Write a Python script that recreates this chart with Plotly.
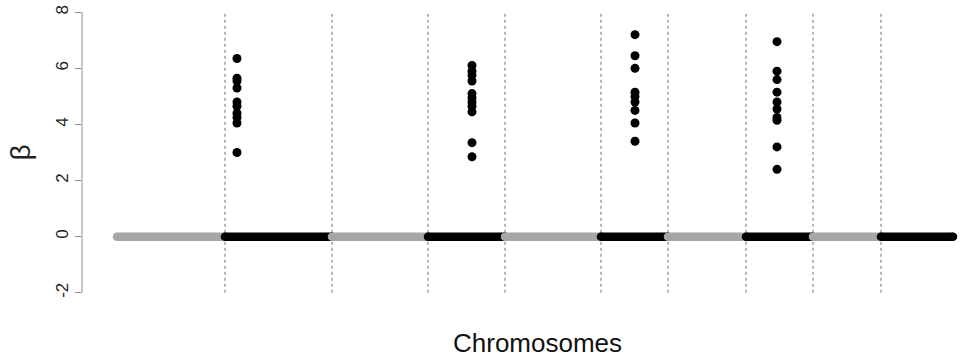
import plotly.graph_objects as go

# Chromosome lengths (arbitrary genome units) in order
chrom_lengths = [108, 107, 96, 77, 96, 67, 78, 67, 68, 72]
chrom_colors = ["#a6a6a6", "#000000"]

# Significant effect clusters: (position, beta values)
cluster_pos = [120, 355, 518, 660]
cluster_betas = [
    [6.35, 5.65, 5.55, 5.3, 4.8, 4.65, 4.4, 4.25, 4.05, 3.0],
    [6.1, 5.9, 5.75, 5.55, 5.1, 4.95, 4.8, 4.65, 4.45, 3.35, 2.85],
    [7.2, 6.45, 6.0, 5.15, 5.0, 4.8, 4.5, 4.05, 3.4],
    [6.95, 5.9, 5.6, 5.15, 4.8, 4.55, 4.25, 4.15, 3.2, 2.4],
]

y_ticks = [-2, 0, 2, 4, 6, 8]

starts = []
acc = 0
for L in chrom_lengths:
    starts.append(acc)
    acc += L
total = acc

fig = go.Figure()

# baseline (null effects) per chromosome
for i, (s, L) in enumerate(zip(starts, chrom_lengths)):
    c = chrom_colors[i % 2]
    fig.add_trace(go.Scatter(
        x=[s, s + L], y=[0, 0], mode="lines+markers",
        line=dict(color=c, width=8.5),
        marker=dict(color=c, size=8.5),
        showlegend=False, hoverinfo="skip"))

# significant points
for p, betas in zip(cluster_pos, cluster_betas):
    fig.add_trace(go.Scatter(
        x=[p] * len(betas), y=betas, mode="markers",
        marker=dict(color="black", size=9, line=dict(width=0)),
        showlegend=False))

# chromosome boundaries
for s in starts[1:]:
    fig.add_shape(type="line", x0=s, x1=s, y0=y_ticks[0], y1=y_ticks[-1],
                  xref="x", yref="y", layer="below",
                  line=dict(color="#707070", width=1, dash="3px,3px"))

# y axis line
fig.add_shape(type="line", x0=0, x1=0, y0=y_ticks[0], y1=y_ticks[-1],
              xref="paper", yref="y",
              line=dict(color="#8c8c8c", width=1))

fig.add_annotation(text="Chromosomes", xref="paper", yref="paper",
                   x=(537 - 82) / 881, y=-39 / 303, showarrow=False,
                   xanchor="center", yanchor="middle",
                   font=dict(family="Liberation Sans, Arial", size=26, color="#111"))

fig.update_layout(
    width=963, height=358,
    margin=dict(l=82, r=0, t=1, b=54, autoexpand=False),
    paper_bgcolor="white", plot_bgcolor="white",
    font=dict(family="Liberation Sans, Arial", color="#222"),
    xaxis=dict(range=[-35, 846], visible=False, showgrid=False, zeroline=False),
    yaxis=dict(range=[-2.4, 8.4], tickvals=y_ticks, ticktext=[str(v) for v in y_ticks],
               tickangle=-90, ticks="outside", ticklen=6, tickcolor="#8c8c8c",
               showline=False, showgrid=False, zeroline=False, automargin=False,
               tickfont=dict(size=17, color="#222"),
               title=dict(text="β", font=dict(size=28, color="#222"), standoff=14)),
)

fig.write_html("out.html", config={"displayModeBar": False},
               post_script="document.body.style.margin='0';document.body.style.overflow='hidden';")
